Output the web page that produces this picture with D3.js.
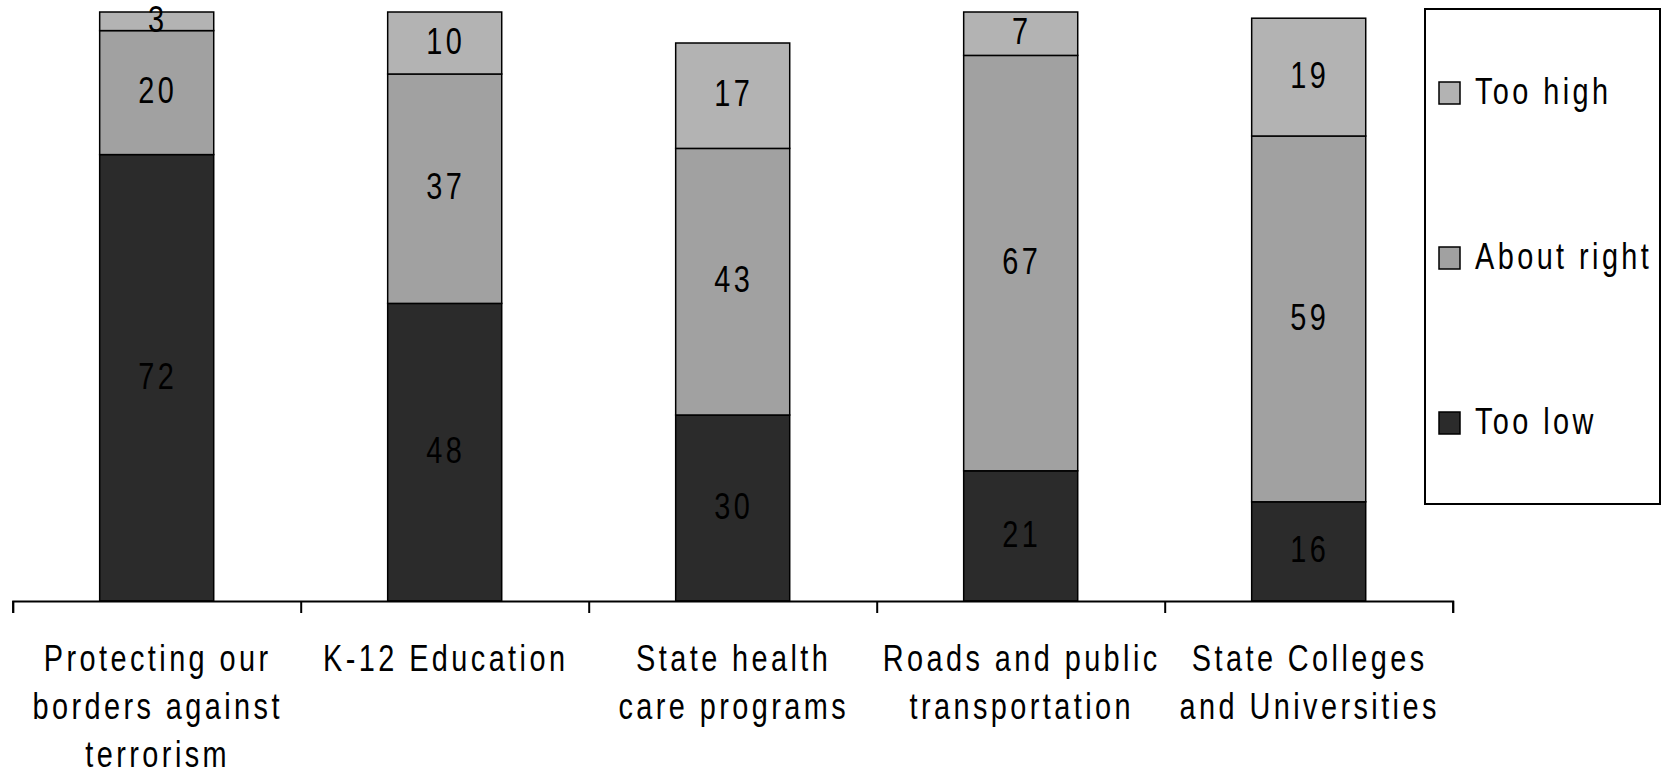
<!DOCTYPE html>
<html lang="en">
<head>
	<meta charset="utf-8">
	<style>
		body { margin: 0; background: white; }
		svg { font-family: 'Liberation Sans', Arial, sans-serif; }
		.lbl { font-size: 37px; letter-spacing: 4.4px; fill: #000; }
		.axis path, .axis line { stroke: #000; stroke-width: 2px; }
	</style>
</head>
<body>
	<svg width=1661 height=773></svg>
	<script src="https://d3js.org/d3.v7.min.js"></script>
	<script>
		// data
		const categories = [
			"Protecting our\nborders against\nterrorism",
			"K-12 Education",
			"State health\ncare programs",
			"Roads and public\ntransportation",
			"State Colleges\nand Universities"
		]
		const seriesNames = ["Too low", "About right", "Too high"]
		const tooLow = [72, 48, 30, 21, 16]
		const aboutRight = [20, 37, 43, 67, 59]
		const tooHigh = [3, 10, 17, 7, 19]
		const colors = ["#2b2b2b", "#a1a1a1", "#b3b3b3"]

		const svg = d3.select("svg")
		const baseY = 601
		const narrow = 0.78 // fake a condensed face

		const table = categories.map((c, i) => ({ cat: c, "Too low": tooLow[i], "About right": aboutRight[i], "Too high": tooHigh[i] }))
		const stacked = d3.stack().keys(seriesNames)(table)

		const x = d3.scaleBand().domain(categories).range([12.7, 1452.7]).padding(0)
		const y = d3.scaleLinear().domain([0, 100]).range([baseY, -19])
		const barW = x.bandwidth() * 0.396

		const layers = svg.append("g").selectAll("g")
			.data(stacked)
			.join("g")
			.attr("fill", (d, i) => colors[i])

		layers.selectAll("rect")
			.data(d => d)
			.join("rect")
			.attr("x", d => x(d.data.cat) + (x.bandwidth() - barW) / 2)
			.attr("y", d => y(d[1]))
			.attr("width", barW)
			.attr("height", d => y(d[0]) - y(d[1]))
			.attr("stroke", "#000")
			.attr("stroke-width", 1.5)

		layers.selectAll("text")
			.data(d => d)
			.join("text")
			.attr("class", "lbl")
			.attr("text-anchor", "middle")
			.attr("transform", d => `translate(${x(d.data.cat) + x.bandwidth() / 2 + 1},${(y(d[0]) + y(d[1])) / 2}) scale(${narrow},1)`)
			.attr("dy", "0.29em")
			.text(d => d[1] - d[0])

		// axis with ticks between categories
		const xb = d3.scaleLinear().domain([0, categories.length]).range(x.range())
		svg.append("g")
			.attr("class", "axis")
			.attr("transform", `translate(0,${baseY})`)
			.call(d3.axisBottom(xb).ticks(categories.length).tickSize(12).tickSizeOuter(12).tickFormat(""))

		// category labels
		const catLabels = svg.append("g").selectAll("text")
			.data(categories)
			.join("text")
			.attr("class", "lbl")
			.attr("text-anchor", "middle")
			.attr("transform", d => `translate(${x(d) + x.bandwidth() / 2 + 1},671) scale(${narrow},1)`)
		catLabels.selectAll("tspan")
			.data(d => d.split("\n"))
			.join("tspan")
			.attr("x", 0)
			.attr("dy", (d, i) => i ? 48 : 0)
			.text(d => d)

		// legend
		const legend = svg.append("g")
		legend.append("rect")
			.attr("x", 1425).attr("y", 9)
			.attr("width", 235).attr("height", 495)
			.attr("fill", "white").attr("stroke", "#000").attr("stroke-width", 2)
		const legendY = d3.scalePoint().domain(seriesNames.slice().reverse()).range([93, 423])
		const items = legend.selectAll("g.item")
			.data(seriesNames)
			.join("g")
			.attr("class", "item")
			.attr("transform", d => `translate(1439,${legendY(d)})`)
		items.append("rect")
			.attr("x", 0).attr("y", -11)
			.attr("width", 21).attr("height", 22)
			.attr("fill", (d, i) => colors[i])
			.attr("stroke", "#000").attr("stroke-width", 1.5)
		items.append("text")
			.attr("class", "lbl")
			.attr("transform", `translate(36,0) scale(${narrow},1)`)
			.attr("dy", "0.31em")
			.text(d => d)
	</script>
</body>
</html>
